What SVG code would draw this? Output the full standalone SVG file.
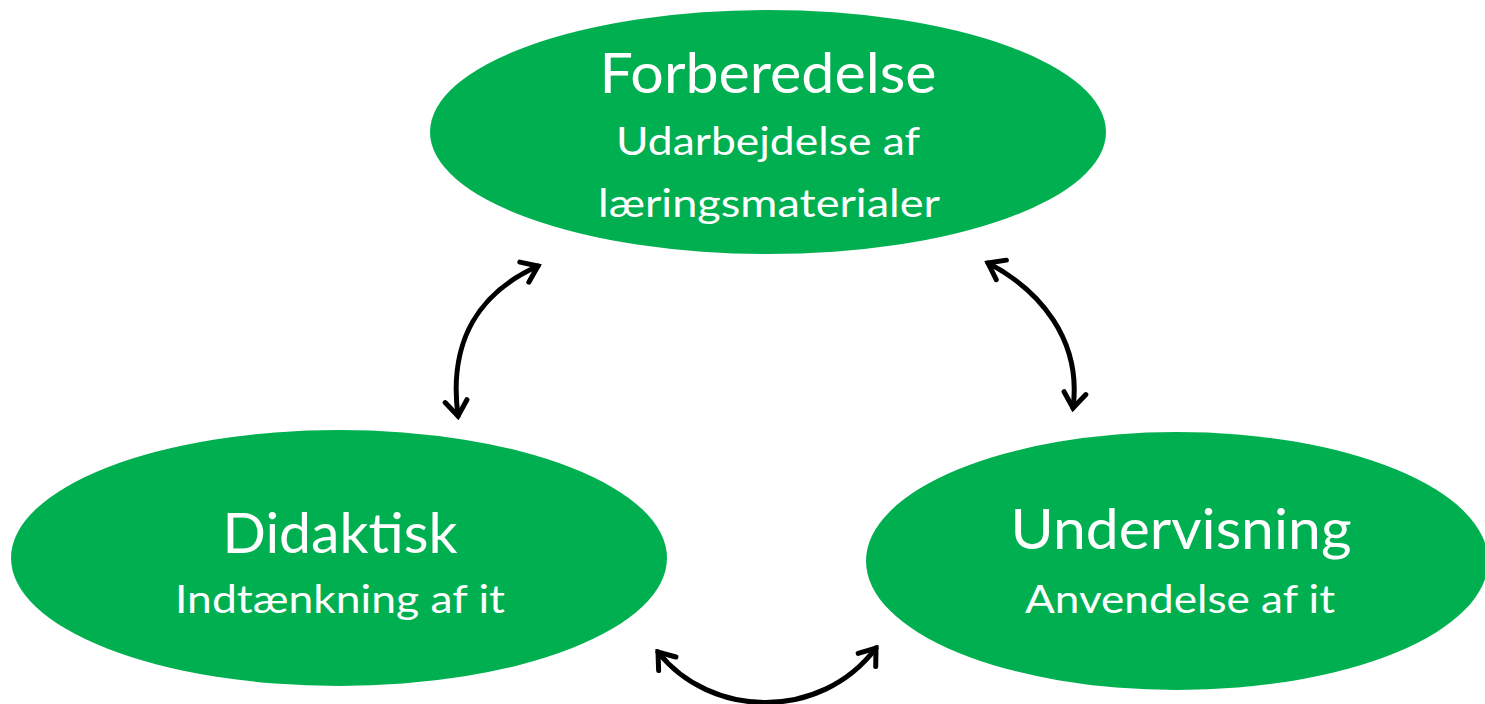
<svg xmlns="http://www.w3.org/2000/svg" width="1485" height="704" viewBox="0 0 1485 704">
<defs>
<style>
.node{fill:#00B050;}
.t{font-family:Lato,"Open Sans","Liberation Sans",sans-serif;fill:#FFFFFF;text-anchor:middle;}
.h{font-size:57px;}
.s{font-size:39px;}
.c{fill:none;stroke:#000000;stroke-width:5;stroke-linecap:round;}
</style>
<marker id="chev" viewBox="-20 -14 24 28" markerWidth="24" markerHeight="28" refX="0" refY="0" markerUnits="userSpaceOnUse" orient="auto-start-reverse">
<path d="M -15 -11 L 0 0 L -15 11" fill="none" stroke="#000000" stroke-width="5" stroke-linecap="round" stroke-linejoin="miter"/>
</marker>
</defs>
<rect width="1485" height="704" fill="#FFFFFF"/>
<g id="node-forberedelse">
<ellipse class="node" cx="768" cy="132" rx="338" ry="122"/>
<text class="t h" x="768" y="93" textLength="337" lengthAdjust="spacingAndGlyphs">Forberedelse</text>
<text class="t s" x="768" y="155" textLength="304" lengthAdjust="spacingAndGlyphs">Udarbejdelse af</text>
<text class="t s" x="769" y="217" textLength="342" lengthAdjust="spacingAndGlyphs">læringsmaterialer</text>
</g>
<g id="node-didaktisk">
<ellipse class="node" cx="339" cy="558" rx="328" ry="128"/>
<text class="t h" x="340" y="553" textLength="235" lengthAdjust="spacingAndGlyphs">Didaktisk</text>
<text class="t s" x="340" y="613" textLength="330" lengthAdjust="spacingAndGlyphs">Indtænkning af it</text>
</g>
<g id="node-undervisning">
<ellipse class="node" cx="1177" cy="561" rx="311" ry="129"/>
<text class="t h" x="1181" y="549" textLength="341" lengthAdjust="spacingAndGlyphs">Undervisning</text>
<text class="t s" x="1180" y="613" textLength="310" lengthAdjust="spacingAndGlyphs">Anvendelse af it</text>
</g>
<g id="connectors">
<path class="c" d="M 538 266 C 480 292, 448 340, 458 416" marker-start="url(#chev)" marker-end="url(#chev)"/>
<path class="c" d="M 988 263 C 1040 290, 1082 340, 1073 408" marker-start="url(#chev)" marker-end="url(#chev)"/>
<path class="c" d="M 658 652 C 710 718, 820 722, 876 648" marker-start="url(#chev)" marker-end="url(#chev)"/>
</g>
</svg>
